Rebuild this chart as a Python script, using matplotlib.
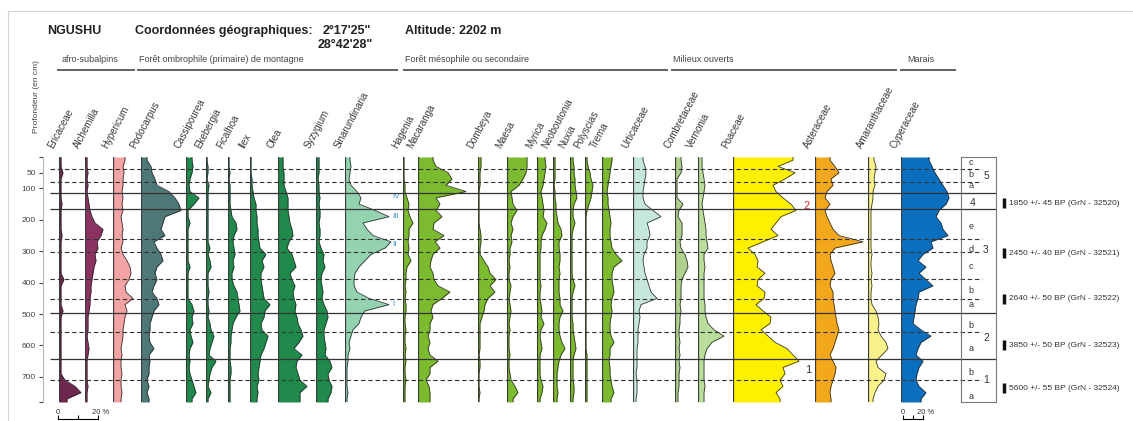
import numpy as np
import matplotlib
matplotlib.use("Agg")
import matplotlib.pyplot as plt
from matplotlib.patches import Rectangle

plt.rcParams['font.family'] = ['Liberation Sans', 'DejaVu Sans']

# ---------------- data ----------------
depth = [10, 30, 50, 70, 90, 110, 130, 150, 170, 190,
         210, 230, 250, 270, 290, 310, 330, 350, 370, 390,
         410, 430, 450, 470, 490, 510, 530, 550, 570, 590,
         610, 630, 650, 670, 690, 710, 730, 750, 770]

ericaceae = [1, 1, 2, 1, 1, 1, 1, 1.5, 1, 1,
             1, 1, 1.5, 1, 1, 1, 1, 1, 1, 2.5,
             1, 1, 1, 1, 2, 1, 1, 1, 1, 1,
             1, 1, 1, 1, 1, 3, 8, 11, 4]
alchemilla = [1, 1, 1.5, 1, 1.5, 1, 1.5, 2, 2.5, 3.5,
              5, 9, 8, 6, 6.5, 5, 5.5, 4.5, 4, 3.5,
              3, 3, 2.5, 2.5, 2, 1.5, 1.5, 1.5, 1, 1.5,
              2, 1.5, 1, 1, 1, 1, 1.5, 1, 1]
hypericum = [6, 5, 5.5, 5, 5, 4.5, 5, 4.5, 5, 4,
             4.5, 5, 4.5, 5, 4, 5, 7, 8.5, 9, 8,
             6, 6.5, 10, 6, 7, 6, 5.5, 5, 5, 4.5,
             4, 4.5, 4, 4, 4.5, 4, 4, 4.5, 4]
podocarpus = [3, 5, 5.5, 7, 8, 14, 17, 19, 20, 12,
              11, 10, 12, 6.5, 8, 10, 11, 8, 7, 8,
              6.5, 5.5, 8, 9, 6.5, 5.5, 4.5, 4.5, 4, 4.5,
              6.5, 4, 4.5, 4, 4, 3, 4, 3, 4]
cassipourea = [3, 3.5, 3, 2, 1.5, 2, 6.5, 4, 1, 1,
               2, 1, 1, 1, 1, 1, 1, 2, 1, 1,
               1, 1, 1, 3, 4, 3, 3.5, 2, 2.5, 3.5,
               2, 1.5, 2, 1.5, 2, 3, 4, 5, 3]
ekebergia = [0.5, 1, 1, 0.5, 1.5, 1, 1, 1, 1, 1,
             1, 1, 1, 1, 2, 1, 2, 2.5, 1, 1,
             1, 1.5, 1, 1, 1.5, 1, 2, 2.5, 4, 3,
             2, 1.5, 5, 3, 2, 1.5, 1, 2.5, 1]
ficalhoa = [0.5, 0.5, 1, 0.5, 1, 1, 1, 1, 1.5, 2,
            4, 4.5, 3, 2.5, 3, 3.5, 2.5, 3, 2, 2,
            3, 4.5, 5, 5.5, 6, 4, 2.5, 2, 1.5, 1.5,
            1, 1, 1, 1.5, 1.5, 1, 1, 1, 1]
ilex = [0.5, 0.5, 0.5, 1, 1, 1.5, 2, 3, 3, 3.5,
        3.5, 4, 4, 4.5, 5, 8, 6, 7, 5.5, 5.5,
        6, 6.5, 7, 10, 7.5, 7, 5.5, 6, 9, 8,
        7, 5.5, 5, 4.5, 4, 4.5, 3.5, 4, 3.5]
olea = [2.5, 2.5, 3, 3, 3, 4, 5, 5, 5, 5.5,
        6, 7, 7.5, 5.5, 4.5, 7, 8, 9, 6, 7,
        8.5, 7.5, 8, 9, 8.5, 9.5, 10, 11.5, 12.5, 10.5,
        8, 12, 9.5, 9, 10, 11, 14.5, 11, 11]
syzygium = [1.5, 1.5, 1.5, 1, 1.5, 1.5, 2, 1.5, 2, 2,
            1.5, 2, 2, 1.5, 2.5, 4, 3.5, 4.5, 3, 2.5,
            3, 3.5, 3, 4, 5.5, 6, 5, 4, 4, 4.5,
            5, 4.5, 7, 8, 6, 6.5, 8, 7.5, 6]
sinarundinaria = [2.5, 3, 2.5, 2, 3, 6, 8, 7, 15, 22,
                  9, 11, 14, 23, 20, 13, 10, 7, 5, 4.5,
                  4.5, 6, 12, 22, 10, 8, 7, 4, 3, 2,
                  2.5, 1.5, 1.5, 1, 1, 1, 1, 1.5, 1]
hagenia = [0.5, 0.5, 0.5, 0.5, 1, 1, 2, 3, 2.5, 3.5,
           5, 3, 3, 2.5, 3, 2.5, 4, 2, 1.5, 1.5,
           1, 1.5, 1, 1.5, 1.5, 1, 1, 1.5, 1, 1,
           1.5, 1, 1.5, 1, 1, 1.5, 1, 1, 1]
macaranga = [7.5, 9, 15, 17, 14, 24, 9, 11, 9, 12,
             8, 7.5, 13, 8.5, 11, 7.5, 6.5, 6, 7.5, 8,
             10, 16, 12, 7.5, 6.5, 7.5, 6, 6, 5, 6,
             5, 6, 10, 6, 6, 4, 5.5, 6, 6]
dombeya = [1.5, 1.5, 1, 1, 1, 0.5, 0.5, 0.5, 0.5, 0.5,
           0.5, 1, 1.5, 1.5, 1, 1, 3, 5, 6, 9,
           6, 8.5, 5, 3.5, 3, 2, 1, 1, 1, 1,
           1, 0.5, 1, 1, 0.5, 0.5, 0.5, 1, 0.5]
maesa = [10, 10, 9.5, 8, 6, 2, 2.5, 3, 5, 3,
         2, 3, 2, 2.5, 1.5, 1.5, 1, 1.5, 1, 1,
         2, 1.5, 1, 1.5, 2, 1.5, 1, 1.5, 1, 1,
         1, 1.5, 1, 1, 1.5, 2, 4, 5.5, 3]
myrica = [4, 4.5, 4, 3.5, 3, 2, 2.5, 3, 3.5, 3,
          5, 4, 2.5, 2, 2, 1.5, 1.5, 1.5, 1.5, 1.5,
          2, 1.5, 1.5, 2, 2.5, 2, 3.5, 2, 1.5, 2,
          2.5, 1.5, 1.5, 1.5, 1.5, 2, 3, 2.5, 1.5]
neoboutonia = [1, 1, 1, 1, 0.5, 1, 1, 1.5, 1.5, 2,
               2.5, 4, 4.5, 3, 3, 3.5, 3.5, 3, 3.5, 3,
               3, 3, 3.5, 3.5, 5, 3.5, 3, 3, 3.5, 4.5,
               6, 4, 3, 2.5, 2, 2, 2, 2.5, 2]
nuxia = [1.5, 2, 2, 2.5, 2.5, 3, 3.5, 2, 1.5, 1.5,
         2.5, 1.5, 1, 1, 1, 1, 1, 1, 1, 1.5,
         2.5, 1.5, 1, 1, 1, 1, 1.5, 1.5, 2, 2.5,
         3, 2, 1.5, 1.5, 1.5, 1.5, 2, 2, 1.5]
polyscias = [1, 1.5, 2.5, 3, 4, 3.5, 3, 2, 1, 0.5,
             0.5, 0.5, 0.5, 0.5, 0.5, 0.5, 0.5, 0.5, 0.5, 0.5,
             0.5, 0.5, 0.5, 0.5, 0.5, 0.5, 0.5, 0.5, 0.5, 0.5,
             0.5, 1, 1, 1, 1, 1, 1, 1, 1]
trema = [5, 4.5, 4, 3.5, 3, 2.5, 3, 3, 3.5, 4,
         4.5, 4, 4, 4.5, 5, 7, 10, 6, 5, 5,
         5.5, 6, 5, 4.5, 5, 4.5, 4, 4, 4.5, 6,
         4, 4, 3.5, 4, 4, 4.5, 5, 6, 4.5]
urticaceae = [5, 6, 6.5, 6, 5.5, 5, 5, 6, 10, 14,
              7, 8, 8.5, 7, 7, 5.5, 5, 5.5, 6, 7,
              8, 9, 12, 4, 3, 3.5, 3, 2.5, 2.5, 2.5,
              2, 2, 2, 2, 1.5, 2, 2, 2, 1.5]
combretaceae = [3, 3.5, 3, 1, 1, 1, 1, 4, 2, 1.5,
                3.5, 3.5, 3.5, 2.5, 3, 5, 6, 6.5, 5, 3.5,
                3, 3, 3, 2.5, 3, 2.5, 2.5, 2, 2, 2.5,
                2, 2.5, 2, 2.5, 2, 2, 2, 1.5, 1.5]
vernonia = [2, 2, 2.5, 3, 3.5, 3, 2.5, 2, 2.5, 3,
            3.5, 4, 4, 4.5, 5, 3, 3, 3.5, 3, 3,
            3, 3, 3, 3.5, 3.5, 4, 5, 8, 13, 7,
            4.5, 3.5, 3, 3, 3, 3, 3.5, 3, 3]
poaceae = [60, 45, 62, 52, 40, 43, 50, 58, 63, 48,
           43, 38, 45, 30, 15, 22, 25, 24, 32, 25,
           24, 32, 31, 23, 30, 38, 37, 28, 35, 42,
           54, 60, 66, 50, 52, 47, 50, 43, 47]
asteraceae = [7.5, 10, 12, 8, 9, 6, 5, 7.5, 5, 6,
              7.5, 9, 12, 24, 10, 7.5, 8, 9, 10, 8,
              7.5, 9, 9, 9.5, 10, 10.5, 11, 12, 11, 10,
              9, 7.5, 9, 10.5, 10, 9, 8, 7.5, 8]
amaranthaceae = [3, 4, 3.5, 3, 3.5, 2.5, 2.5, 2, 1.5, 1.5,
                 1.5, 1.5, 1.5, 1.5, 1.5, 2, 1.5, 1.5, 2, 1.5,
                 2, 1.5, 1.5, 2, 4, 5, 5.5, 5, 6.5, 9,
                 10, 7, 4, 5, 9, 8, 5, 3.5, 2.5]
cyperaceae = [28, 31, 34, 38, 42, 46, 48, 45, 38, 35,
              40, 42, 47, 30, 32, 22, 17, 25, 18, 25,
              32, 18, 17, 15, 14, 13, 12, 20, 30, 20,
              17, 15, 22, 18, 16, 15, 18, 25, 20]

depth_ticks = [50, 100, 200, 300, 400, 500, 600, 700]
zone_solid = [115, 166, 497, 643]
zone_dashed = [38, 80, 261, 303, 389, 452, 557, 710]
subzone_letters = ['c', 'b', 'a', 'e', 'd', 'c', 'b', 'a', 'b', 'a', 'b', 'a']
subzone_depths = [19, 57, 92, 220, 293, 350, 424, 471, 538, 611, 685, 764]
zone_numbers = ['5', '4', '3', '2', '1']
zone_number_depths = [60, 147, 296, 576, 710]
date_labels = ['1850 +/- 45 BP (GrN - 32520)', '2450 +/- 40 BP (GrN - 32521)',
               '2640 +/- 50 BP (GrN - 32522)', '3850 +/- 50 BP (GrN - 32523)',
               '5600 +/- 55 BP (GrN - 32524)']
date_depths = [147, 306, 452, 599, 736]

groups = ['afro-subalpins', 'Forêt ombrophile (primaire) de montagne',
          'Forêt mésophile ou secondaire', 'Milieux ouverts', 'Marais']

# ---------------- layout ----------------
W, H = 1133, 421
TOP, BOT = 157, 402
DMAX = 780

fig = plt.figure(figsize=(W / 100, H / 100), dpi=100)


def px_axes(x0, y0, x1, y1):
    ax = fig.add_axes([x0 / W, 1 - y1 / H, (x1 - x0) / W, (y1 - y0) / H])
    ax.patch.set_alpha(0)
    return ax


# (label, series, baseline px, width px, px per %, colour)
G = '#1f8a4c'
LG = '#7cba2e'
columns = [
    ('Ericaceae', ericaceae, 59, 28, 2, '#6e2850'),
    ('Alchemilla', alchemilla, 85, 28, 2, '#8c3262'),
    ('Hypericum', hypericum, 113, 24, 2, '#f3a3a3'),
    ('Podocarpus', podocarpus, 141, 44, 2, '#4e7877'),
    ('Cassipourea', cassipourea, 186, 18, 2, G),
    ('Ekebergia', ekebergia, 206, 20, 2, G),
    ('Ficalhoa', ficalhoa, 228, 20, 2, G),
    ('Ilex', ilex, 250, 26, 2, G),
    ('Olea', olea, 278, 36, 2, G),
    ('Syzygium', syzygium, 316, 26, 2, G),
    ('Sinarundinaria', sinarundinaria, 345, 52, 2, '#93d3b0'),
    ('Hagenia', hagenia, 403, 14, 2, LG),
    ('Macaranga', macaranga, 418, 58, 2, LG),
    ('Dombeya', dombeya, 478, 26, 2, LG),
    ('Maesa', maesa, 507, 28, 2, LG),
    ('Myrica', myrica, 537, 14, 2, LG),
    ('Neoboutonia', neoboutonia, 553, 15, 2, LG),
    ('Nuxia', nuxia, 570, 14, 2, LG),
    ('Polyscias', polyscias, 585, 15, 2, LG),
    ('Trema', trema, 602, 28, 2, LG),
    ('Urticaceae', urticaceae, 633, 36, 2, '#c6e7dd'),
    ('Combretaceae', combretaceae, 675, 20, 2, '#aed18f'),
    ('Vernonia', vernonia, 698, 32, 2, '#b9de9c'),
    ('Poaceae', poaceae, 733, 80, 1, '#fff000'),
    ('Asteraceae', asteraceae, 815, 52, 2, '#f2a71c'),
    ('Amaranthaceae', amaranthaceae, 868, 30, 2, '#f7f28a'),
    ('Cyperaceae', cyperaceae, 901, 56, 1, '#0b6fbf'),
]

# background pixel axes for free text
axp = px_axes(0, 0, W, H)
axp.set_xlim(0, W)
axp.set_ylim(H, 0)
axp.axis('off')

fig.patches.append(Rectangle((8 / W, -0.1), 1.2, 1.1 - 11 / H, transform=fig.transFigure,
                             fill=False, ec='#d4d4d4', lw=0.8))

d_ext = np.r_[0, depth, DMAX]
for label, vals, x0, w, ppp, col in columns:
    ax = px_axes(x0, TOP, x0 + w, BOT)
    v = np.r_[vals[0], vals, vals[-1]]
    ax.fill_betweenx(d_ext, 0, v, color=col, lw=0)
    ax.plot(v, d_ext, color='#2b2b2b', lw=0.55)
    ax.axvline(0, color='#3a3a3a', lw=0.9)
    ax.set_xlim(0, w / ppp)
    ax.set_ylim(DMAX, 0)
    ax.axis('off')
    axp.text(x0 - 4, 150, label, rotation=62, rotation_mode='anchor', ha='left',
             va='bottom', fontsize=7, color='#3a3a3a')

# zone lines + depth axis
axl = px_axes(43, TOP, 996, BOT)
axl.set_xlim(43, 996)
axl.set_ylim(DMAX, 0)
axl.hlines(zone_solid, 50, 996, color='#333333', lw=0.9)
axl.hlines(zone_dashed, 50, 982, color='#333333', lw=0.8, linestyles=(0, (4, 2.5)))
for s in ['top', 'right', 'bottom']:
    axl.spines[s].set_visible(False)
axl.spines['left'].set_color('#b8b8b8')
axl.spines['left'].set_linewidth(0.8)
axl.set_xticks([])
axl.set_yticks([0] + depth_ticks + [DMAX])
axl.set_yticklabels([''] + [str(t) for t in depth_ticks] + [''])
axl.tick_params(axis='y', direction='out', length=3, width=0.8, labelsize=6,
                colors='#444444', pad=2)
tl = axl.yaxis.get_ticklines()
for t in tl[:2] + tl[-2:]:
    t.set_color('#d03030')

# zone box
axz = px_axes(961, TOP, 996, BOT)
axz.set_xlim(0, 35)
axz.set_ylim(DMAX, 0)
axz.set_xticks([])
axz.set_yticks([])
for s in axz.spines.values():
    s.set_color('#777777')
    s.set_linewidth(0.8)
for lt, dd in zip(subzone_letters, subzone_depths):
    axz.text(10, dd, lt, fontsize=6.5, ha='center', va='center', color='#333333')
for nb, dd in zip(zone_numbers, zone_number_depths):
    xx = 12 if nb == '4' else 25
    axz.text(xx, dd, nb, fontsize=7.5, ha='center', va='center', color='#333333')

# dates
axd = px_axes(1000, TOP, W, BOT)
axd.set_xlim(0, W - 1000)
axd.set_ylim(DMAX, 0)
axd.axis('off')
axd.plot([4] * len(date_depths), date_depths, ls='none', marker='|', ms=7, mew=2.5,
         color='#111111')
for lab, dd in zip(date_labels, date_depths):
    axd.text(9, dd, lab, fontsize=6, va='center', ha='left', color='#333333')

# titles
axp.text(47, 31, 'NGUSHU', fontsize=9, fontweight='bold', va='center', color='#222222')
axp.text(135, 31, 'Coordonnées géographiques:', fontsize=9, fontweight='bold',
         va='center', color='#222222')
axp.text(323, 31, '2°17\'25"', fontsize=9, fontweight='bold', va='center', color='#222222')
axp.text(318, 45, '28°42\'28"', fontsize=9, fontweight='bold', va='center', color='#222222')
axp.text(405, 31, 'Altitude: 2202 m', fontsize=9, fontweight='bold', va='center',
         color='#222222')

# group headers
group_spans = [(57, 135, 62), (137, 398, 139), (403, 668, 405), (671, 897, 673), (900, 956, 907)]
for name, (a, b, tx) in zip(groups, group_spans):
    axp.text(tx, 64, name, fontsize=6.5, va='bottom', ha='left', color='#444444')
    axp.plot([a, b], [70, 70], color='#555555', lw=1.3, solid_capstyle='butt')

axp.text(37, 97, 'Profondeur (en cm)', rotation=90, fontsize=6, ha='center',
         va='center', color='#444444')

# annotations
for txt, yy in [('IV', 197), ('III', 216), ('II', 245), ('I', 305)]:
    axp.text(392, yy, txt, fontsize=6, color='#3d95d6', va='center')
axp.text(803, 206, '2', fontsize=8, color='#d03030', va='center')
axp.text(805, 370, '1', fontsize=8, color='#333333', va='center')

# scale bars (0-20 %)
for x0, ppp in [(58, 2), (903, 1)]:
    axs = px_axes(x0, 416, x0 + 20 * ppp, 419)
    axs.set_xlim(0, 20)
    for s in ['top', 'right', 'left']:
        axs.spines[s].set_visible(False)
    axs.spines['bottom'].set_linewidth(0.8)
    axs.set_yticks([])
    axs.set_xticks([0, 10, 20])
    axs.set_xticklabels([])
    axs.tick_params(axis='x', direction='in', length=3, width=0.8)
    axp.text(x0, 412, '0', fontsize=5.5, ha='center', va='center', color='#333333')
    axp.text(x0 + 20 * ppp + 3, 412, '20 %', fontsize=5.5, ha='center', va='center',
             color='#333333')

fig.savefig('out.png', dpi=100)
